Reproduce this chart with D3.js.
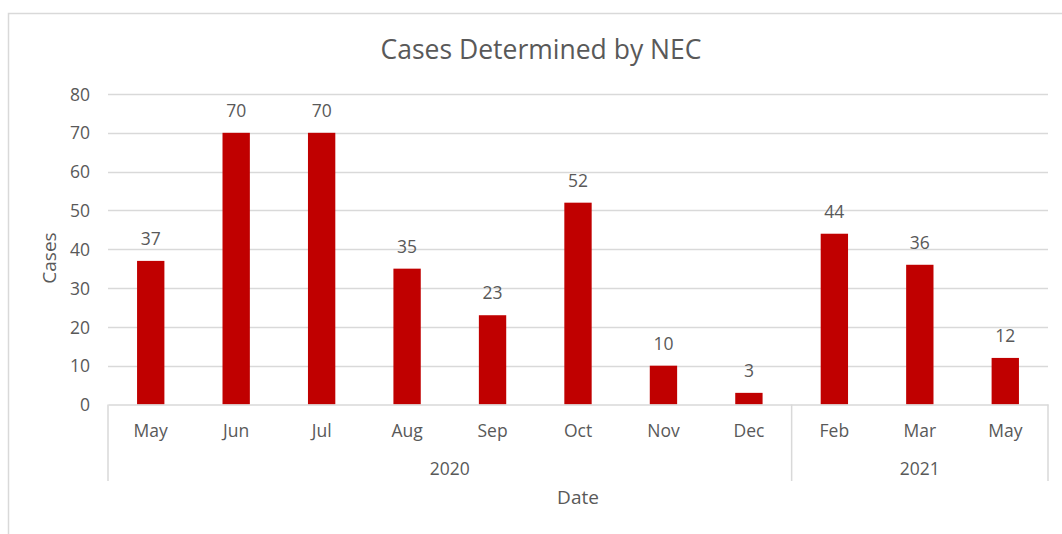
<!DOCTYPE html>
<html><head><meta charset="utf-8">
<script src="https://cdn.jsdelivr.net/npm/d3@7"></script>
<style>
body{margin:0;background:#fff;}
text{font-family:"Open Sans","Liberation Sans",sans-serif;fill:#595959;}
</style></head>
<body><svg id="c" width="1062" height="534"></svg>
<script>
const months = ["May","Jun","Jul","Aug","Sep","Oct","Nov","Dec","Feb","Mar","May"];
const years = ["2020","2020","2020","2020","2020","2020","2020","2020","2021","2021","2021"];
const cases = [37,70,70,35,23,52,10,3,44,36,12];
const yTicks = [0,10,20,30,40,50,60,70,80];
const title = "Cases Determined by NEC";
const yTitle = "Cases";
const xTitle = "Date";

const svg = d3.select("#c");
const W = 1062, H = 534;
const m = {left:108, right:1048, top:94, bottom:404.5};
const keys = months.map((d,i)=>i);
const x = d3.scaleBand().domain(keys).range([m.left,m.right]).paddingInner(0.68).paddingOuter(0.34);
const y = d3.scaleLinear().domain([0,80]).range([m.bottom,m.top]);

// chart border (left + top)
svg.append("path").attr("d",`M8.5,${H}V13.5H${W}`).attr("fill","none").attr("stroke","#d9d9d9").attr("stroke-width",1.5);

// gridlines
svg.append("g").selectAll("line").data(yTicks.filter(t=>t>0)).join("line")
  .attr("x1",m.left).attr("x2",m.right).attr("y1",d=>Math.round(y(d))+0.5).attr("y2",d=>Math.round(y(d))+0.5)
  .attr("stroke","#d9d9d9").attr("stroke-width",1.5);

// y axis labels
const ya = svg.append("g").attr("transform",`translate(${m.left},0)`)
  .call(d3.axisLeft(y).tickValues(yTicks).tickSize(0).tickPadding(18));
ya.select(".domain").remove();
ya.selectAll("text").style("font-size","17.5px").attr("fill","#595959").attr("dy","0.35em");

// bars
svg.append("g").selectAll("rect").data(cases).join("rect")
  .attr("x",(d,i)=>x(i)).attr("width",x.bandwidth())
  .attr("y",d=>y(d)).attr("height",d=>y(0)-y(d)).attr("fill","#c00000");

// data labels
svg.append("g").selectAll("text").data(cases).join("text")
  .attr("x",(d,i)=>x(i)+x.bandwidth()/2).attr("y",d=>y(d)-22).attr("dy","0.35em")
  .attr("text-anchor","middle").style("font-size","17.5px").text(d=>d);

// x axis baseline
const xa = svg.append("g").attr("transform",`translate(0,${m.bottom})`)
  .call(d3.axisBottom(x).tickSize(0).tickPadding(0).tickFormat(i=>months[i]));
xa.select(".domain").attr("stroke","#d9d9d9").attr("stroke-width",1.5);
xa.selectAll("text").style("font-size","17.5px").attr("fill","#595959").attr("y",26).attr("dy","0.35em");

// year groups
const groups = d3.groups(keys, i=>years[i]);
const step = x.step();
const edges = [m.left];
groups.forEach(([yr, idx])=>{
  const last = idx[idx.length-1];
  const x0 = m.left + idx[0]*step, x1 = m.left + (last+1)*step;
  edges.push(x1);
  svg.append("text").attr("x",(x0+x1)/2).attr("y",469).attr("dy","0.35em")
    .attr("text-anchor","middle").style("font-size","17.5px").text(yr);
});
svg.append("g").selectAll("line").data(edges).join("line")
  .attr("x1",d=>d).attr("x2",d=>d).attr("y1",m.bottom).attr("y2",481)
  .attr("stroke","#d9d9d9").attr("stroke-width",1.5);

// titles
svg.append("text").attr("x",541).attr("y",50).attr("dy","0.35em").attr("text-anchor","middle")
  .style("font-size","26.5px").text(title);
svg.append("text").attr("transform","translate(49,258) rotate(-90)").attr("dy","0.35em")
  .attr("text-anchor","middle").style("font-size","19px").text(yTitle);
svg.append("text").attr("x",578).attr("y",497).attr("dy","0.35em").attr("text-anchor","middle")
  .style("font-size","19px").text(xTitle);
</script></body></html>
